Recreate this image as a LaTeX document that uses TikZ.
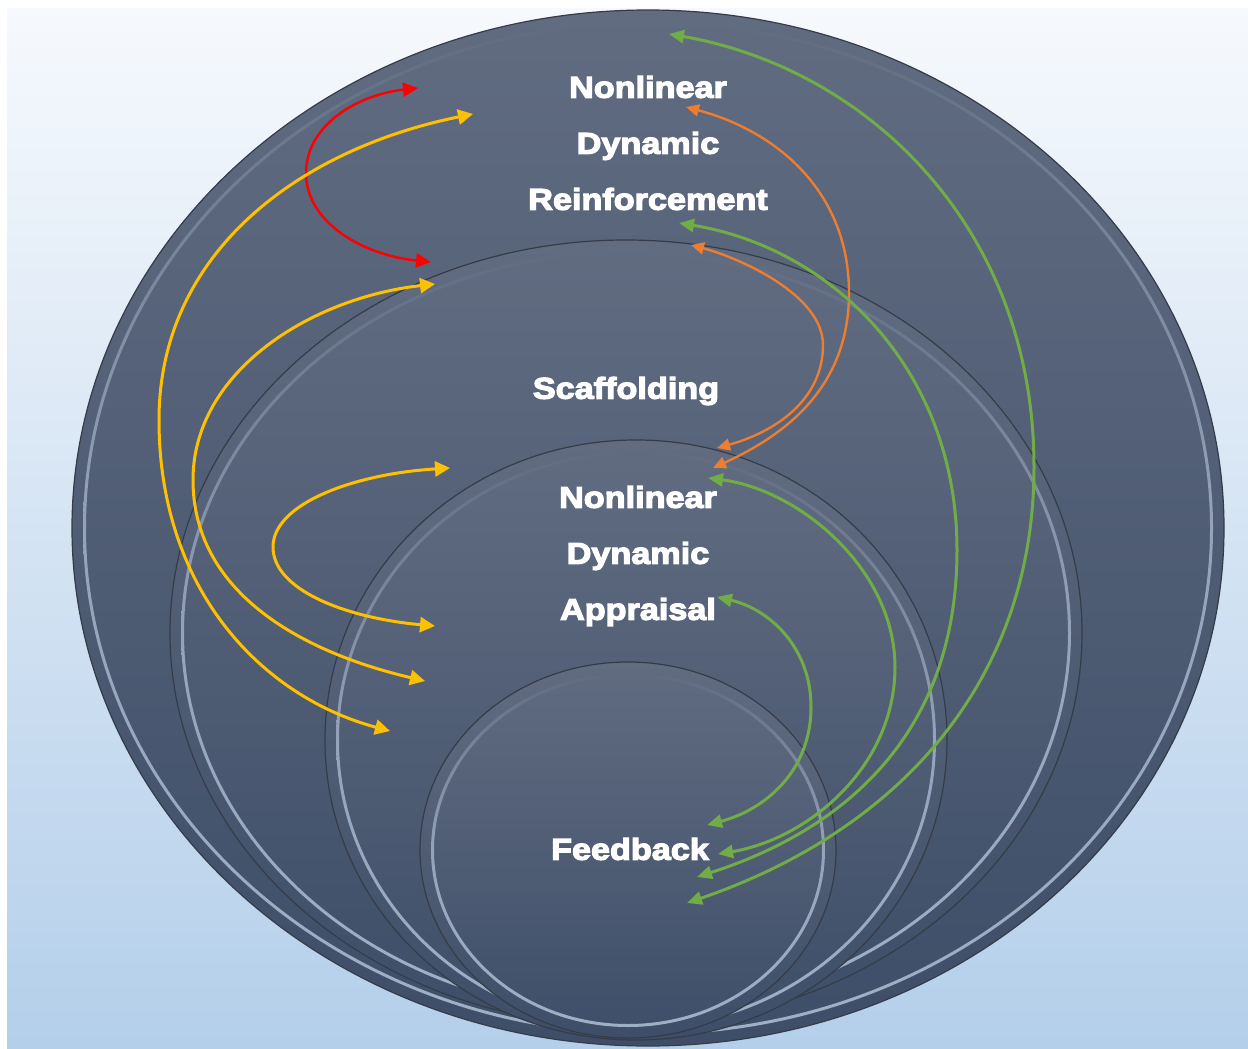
\documentclass[tikz,border=0pt]{standalone}
\usepackage{fontspec}
\newfontfamily\heavy{Liberation Sans Bold}[FakeBold=4,FakeStretch=1.14]
\usetikzlibrary{arrows.meta}
\definecolor{bgtop}{HTML}{F6F9FD}
\definecolor{bgbot}{HTML}{B4CFEA}
\definecolor{disctop}{HTML}{616C81}
\definecolor{discbot}{HTML}{3E4E68}
\definecolor{rimdark}{HTML}{353C48}
\definecolor{hltop}{HTML}{616C81}
\definecolor{hlbot}{HTML}{B8C8DE}
\definecolor{arrred}{HTML}{FF0000}
\definecolor{arryel}{HTML}{FFC000}
\definecolor{arrorg}{HTML}{ED7D31}
\definecolor{arrgrn}{HTML}{70AD47}
\tikzset{
  disc/.style={draw=rimdark, line width=1.2pt, top color=disctop, bottom color=discbot},
  hlring/.style={even odd rule, top color=hltop, bottom color=hlbot, middle color=hlbot!80!hltop, opacity=0.8},
  lbl/.style={text=white, font=\heavy\fontsize{30}{56}\selectfont, align=center, inner sep=0pt},
  redarr/.style={draw=arrred, line width=2.5pt, arrows={Triangle[length=15pt,width=14pt]-Triangle[length=15pt,width=14pt]}},
  yelarr/.style={draw=arryel, line width=3pt, arrows={Triangle[length=15pt,width=15pt]-Triangle[length=15pt,width=15pt]}},
  orgarr/.style={draw=arrorg, line width=2.4pt, arrows={Triangle[length=13pt,width=12pt]-Triangle[length=13pt,width=12pt]}},
  grnarr/.style={draw=arrgrn, line width=3pt, arrows={Triangle[length=15pt,width=13pt]-Triangle[length=15pt,width=13pt]}}
}
\begin{document}
\begin{tikzpicture}[x=1pt,y=-1pt]
\useasboundingbox (0,0) rectangle (1248,1049);
\fill[white] (0,0) rectangle (1248,1049);
\shade[top color=bgtop, bottom color=bgbot] (7,9) rectangle (1248,1049);

% outer ellipse
\path[disc] (648,528) ellipse [x radius=576pt, y radius=518pt];
\shade[hlring] (648,528) ellipse [x radius=565pt, y radius=507pt] (648,528) ellipse [x radius=562pt, y radius=504pt];
% scaffolding
\path[disc] (626,633) ellipse [x radius=456pt, y radius=393pt];
\shade[hlring] (626,633) ellipse [x radius=445pt, y radius=382pt] (626,633) ellipse [x radius=442pt, y radius=379pt];
% appraisal
\path[disc] (636,740) ellipse [x radius=311pt, y radius=300pt];
\shade[hlring] (636,740) ellipse [x radius=300pt, y radius=289pt] (636,740) ellipse [x radius=297pt, y radius=286pt];
% feedback
\path[disc] (628,850) ellipse [x radius=208pt, y radius=188pt];
\shade[hlring] (628,850) ellipse [x radius=197pt, y radius=177pt] (628,850) ellipse [x radius=194pt, y radius=174pt];

% labels
\node[lbl] (reinf) at (648,143) {Nonlinear\\Dynamic\\Reinforcement};
\node[lbl] (scaf) at (626,391) {Scaffolding};
\node[lbl] (appr) at (638,556) {Nonlinear\\Dynamic\\Appraisal};
\node[lbl] (feed) at (630,849) {Feedback};

% arrow end points
\coordinate (r1) at (418,88);  \coordinate (rm) at (306,173); \coordinate (r2) at (431,262);
\coordinate (ya1) at (473,114); \coordinate (yam) at (159,420); \coordinate (ya2) at (390,731);
\coordinate (yb1) at (435,284); \coordinate (ybm) at (193,480); \coordinate (yb2) at (425,681);
\coordinate (yc1) at (450,468); \coordinate (ycm) at (273,547); \coordinate (yc2) at (435,626);
\coordinate (oa1) at (686,107); \coordinate (oam) at (849,293); \coordinate (oa2) at (713,468);
\coordinate (ob1) at (691,245); \coordinate (obm) at (823,345); \coordinate (ob2) at (717,448);
\coordinate (ga1) at (669,34);  \coordinate (gam) at (1034,467); \coordinate (ga2) at (687,903);
\coordinate (gb1) at (679,223); \coordinate (gbm) at (957,550); \coordinate (gb2) at (697,877);
\coordinate (gc1) at (708,478); \coordinate (gcm) at (895,667); \coordinate (gc2) at (718,854);
\coordinate (gd1) at (717,597); \coordinate (gdm) at (811,707); \coordinate (gd2) at (707,825);

% red
\draw[redarr] (r1) .. controls (356,95) and (306,126) .. (rm) .. controls (306,222) and (362,255) .. (r2);
% yellow
\draw[yelarr] (ya1) .. controls (300,149) and (159,252) .. (yam) .. controls (159,591) and (263,697) .. (ya2);
\draw[yelarr] (yb1) .. controls (310,298) and (193,372) .. (ybm) .. controls (193,590) and (297,651) .. (yb2);
\draw[yelarr] (yc1) .. controls (353,474) and (273,504) .. (ycm) .. controls (273,590) and (346,618) .. (yc2);
% orange
\draw[orgarr] (oa1) .. controls (776,131) and (849,191) .. (oam) .. controls (849,389) and (783,436) .. (oa2);
\draw[orgarr] (ob1) .. controls (740,258) and (823,295) .. (obm) .. controls (823,400) and (775,432) .. (ob2);
% green
\draw[grnarr] (ga1) .. controls (869,69) and (1034,229) .. (gam) .. controls (1034,680) and (900,830) .. (ga2);
\draw[grnarr] (gb1) .. controls (832,248) and (957,370) .. (gbm) .. controls (957,740) and (837,832) .. (gb2);
\draw[grnarr] (gc1) .. controls (800,490) and (895,570) .. (gcm) .. controls (895,767) and (808,839) .. (gc2);
\draw[grnarr] (gd1) .. controls (769,609) and (811,647) .. (gdm) .. controls (811,772) and (764,810) .. (gd2);
\end{tikzpicture}
\end{document}
